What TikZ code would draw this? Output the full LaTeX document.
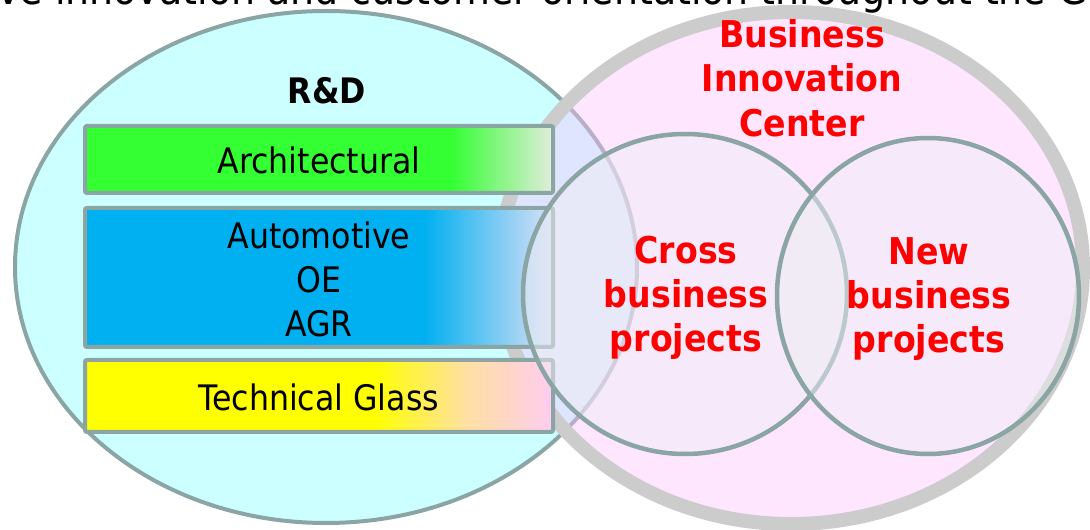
\documentclass[tikz,border=0pt]{standalone}
\usepackage{fontspec}
\setmainfont{DejaVu Sans Condensed}
\usetikzlibrary{positioning}

\definecolor{rdcyan}{HTML}{CCFFFF}
\definecolor{rim}{HTML}{8BA4A4}
\definecolor{bicpink}{HTML}{FFC0FF}
\definecolor{ringgray}{HTML}{CCCCCC}
\definecolor{archgreen}{HTML}{33FF33}
\definecolor{archend}{HTML}{E2ECDC}
\definecolor{autoblue}{HTML}{00B0F0}
\definecolor{autoend}{HTML}{DCE0F6}
\definecolor{techyellow}{HTML}{FFFF00}
\definecolor{techpeach}{HTML}{FFE0A0}
\definecolor{techpink}{HTML}{FFCCF0}
\definecolor{vennfill}{HTML}{EEEEF4}
\definecolor{bicred}{HTML}{FF0000}

\tikzset{
    sector/.style={draw=rim, line width=0.08cm, rounded corners=0.04cm},
    boxtext/.style={font=\fontsize{20}{25}\selectfont, align=center},
    bictext/.style={text=bicred, font=\fontsize{21}{25.2}\selectfont\bfseries, align=center},
    venn/.style={draw=rim, line width=0.09cm, fill=vennfill, fill opacity=0.5},
}

\begin{document}
\begin{tikzpicture}[x=0.02cm, y=-0.02cm]
        \useasboundingbox (0,0) rectangle (1090,530);
        \node (title) at (-3,5) [anchor=base west, inner sep=0, font=\fontsize{24}{28}\selectfont] {ve innovation and customer orientation throughout the G};
        \begin{scope}
            \draw[rim, fill=rdcyan, line width=0.08cm] (326,267) ellipse [x radius=311, y radius=256];
            \fill[bicpink, fill opacity=0.4] (791,268) ellipse [x radius=292, y radius=256];
            \draw[ringgray, line width=0.28cm] (791,268) ellipse [x radius=292, y radius=256];
        \end{scope}
        \begin{scope}
            \fill[archgreen] (85,126) rectangle (452,193);
            \shade[left color=archgreen, right color=archend] (451,126) rectangle (553,193);
            \draw[sector] (85,126) rectangle (553,193);
            \fill[autoblue] (85,208) rectangle (425,347);
            \shade[left color=autoblue, right color=autoend] (424,208) rectangle (553,347);
            \draw[sector] (85,208) rectangle (553,347);
            \fill[techyellow] (85,360) rectangle (375,432);
            \shade[left color=techyellow, right color=techpeach] (374,360) rectangle (465,432);
            \shade[left color=techpeach, right color=techpink] (464,360) rectangle (553,432);
            \draw[sector] (85,360) rectangle (553,432);
            \node (rd) at (327,91) [font=\fontsize{20}{25}\selectfont\bfseries] {R\&D};
            \node (arch) at (319,160) [boxtext] {Architectural};
            \node (auto) at (319,279) [boxtext] {Automotive\\OE\\AGR};
            \node (tech) at (319,397) [boxtext] {Technical Glass};
        \end{scope}
        \begin{scope}
            \draw[venn] (685,294) ellipse [x radius=162, y radius=160];
            \draw[venn] (928,296) ellipse [x radius=151, y radius=158];
            \node (bic) at (802,78) [bictext] {Business\\Innovation\\Center};
            \node (cross) at (686,298) [bictext] {Cross\\business\\projects};
            \node (new) at (929,299) [bictext] {New\\business\\projects};
        \end{scope}
    \end{tikzpicture}
\end{document}
